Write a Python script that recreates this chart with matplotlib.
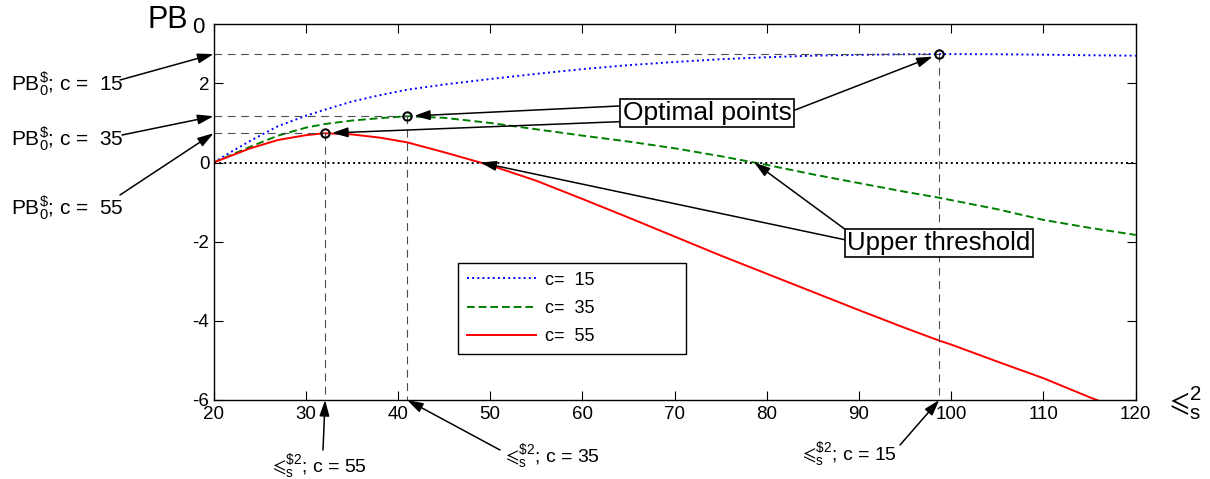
import matplotlib
matplotlib.use('Agg')
import matplotlib.pyplot as plt
import numpy as np

plt.rcParams['font.family'] = ['Liberation Sans', 'DejaVu Sans']
plt.rcParams['mathtext.default'] = 'regular'
plt.rcParams['axes.unicode_minus'] = False

# values
x_vals = [20, 22, 24, 27, 30, 32, 35, 38, 41, 45, 50, 55, 60, 65, 70, 75, 80,
          85, 90, 95, 98.7, 100, 105, 110, 115, 120]
pb_c15 = [0, 0.28, 0.55, 0.92, 1.18, 1.33, 1.54, 1.70, 1.84, 1.97, 2.11, 2.24,
          2.36, 2.46, 2.54, 2.61, 2.66, 2.70, 2.72, 2.735, 2.74, 2.74, 2.735,
          2.725, 2.71, 2.70]
pb_c35 = [0, 0.20, 0.40, 0.68, 0.88, 0.97, 1.06, 1.12, 1.17, 1.13, 1.00, 0.84,
          0.68, 0.53, 0.36, 0.16, -0.06, -0.30, -0.52, -0.74, -0.89, -0.95,
          -1.18, -1.45, -1.65, -1.83]
pb_c55 = [0, 0.18, 0.36, 0.57, 0.69, 0.74, 0.71, 0.63, 0.51, 0.26, -0.07, -0.46,
          -0.92, -1.39, -1.87, -2.35, -2.81, -3.27, -3.73, -4.18, -4.50, -4.60,
          -5.03, -5.45, -5.93, -6.38]
legend_labels = ['c=  15', 'c=  35', 'c=  55']
opt_x = [98.7, 41.0, 32.1]      # c = 15, 35, 55
opt_y = [2.74, 1.17, 0.74]
c_vals = [15, 35, 55]

W, H = 1210, 479


def fp(x, y):
    # picture pixels (top-left origin) -> figure fraction
    return (x / W, 1 - y / H)


fig = plt.figure(figsize=(W / 100, H / 100), dpi=100)
ax = fig.add_axes([213.5 / W, 79 / H, 922.2 / W, 376 / H])

ax.plot(x_vals, pb_c15, ':', color='#0000ff', lw=1.4, label=legend_labels[0])
ax.plot(x_vals, pb_c35, '--', color='#008000', lw=1.4, dashes=(4, 2),
        label=legend_labels[1])
ax.plot(x_vals, pb_c55, '-', color='#ff0000', lw=1.4, label=legend_labels[2])

ax.axhline(0, color='k', ls=':', lw=1.4)

for ox, oy in zip(opt_x, opt_y):
    ax.plot([20, ox], [oy, oy], color='0.3', lw=0.8, dashes=(7, 5))
    ax.plot([ox, ox], [oy, -6], color='0.3', lw=0.8, dashes=(7, 5))
ax.plot(opt_x, opt_y, 'o', mfc='none', mec='k', mew=1.5, ms=6)

ax.set_xlim(20, 120)
ax.set_ylim(-6, 3.5)
ax.set_xticks(np.arange(20, 121, 10))
ax.set_yticks([-6, -4, -2, 0, 2])
ax.tick_params(direction='in', top=True, right=True, length=6.5, width=0.8,
               labelsize=13.5)
ax.tick_params(axis='x', pad=4)
ax.tick_params(axis='y', pad=3)
for s in ax.spines.values():
    s.set_linewidth(1.0)

leg = ax.legend(loc='lower left', bbox_to_anchor=(0.265, 0.122, 0.247, 0.245),
                mode='expand', borderaxespad=0, fontsize=13, handlelength=3.8,
                handletextpad=0.55, borderpad=0.5, labelspacing=0.62,
                fancybox=False, framealpha=1, edgecolor='k')
leg.get_frame().set_linewidth(1.0)

arr = dict(arrowstyle='-|>,head_length=0.8,head_width=0.25', color='k',
           lw=1.1, mutation_scale=12, shrinkA=0, shrinkB=0)
arr_pt = dict(arr, shrinkB=5)

# left labels pointing at the optimal PB values
left_base = [91, 146, 215]
left_start = [(120, 80), (122, 135), (120, 195)]
for c, oy, b, st in zip(c_vals, opt_y, left_base, left_start):
    fig.text(*fp(11, b), r'$PB_0^{\$}$; c =  %d' % c, fontsize=15,
             ha='left', va='baseline')
    ax.annotate('', xy=(20, oy), xycoords='data', xytext=fp(*st),
                textcoords='figure fraction', arrowprops=arr, annotation_clip=False)

# bottom labels pointing at the optimal sigma values
bot_left = [802, 505, 272]
bot_base = [460, 462, 472]
bot_start = [(900, 445), (500, 450), (323, 450)]
for c, ox, lx, b, st in zip(c_vals, opt_x, bot_left, bot_base, bot_start):
    fig.text(*fp(lx, b), '$\u2a7d_s^{\\$2}$; c = %d' % c, fontsize=14,
             ha='left', va='baseline')
    ax.annotate('', xy=(ox, -6), xycoords='data', xytext=fp(*st),
                textcoords='figure fraction', arrowprops=arr, annotation_clip=False)

# Optimal points box
box = dict(boxstyle='square,pad=0.08', fc='white', ec='k', lw=1.2)
fig.text(*fp(707, 113), 'Optimal points', fontsize=19, ha='center',
         va='center', bbox=box)
opt_start = [(795, 110), (619, 106), (619, 121.7)]
for ox, oy, st in zip(opt_x, opt_y, opt_start):
    ax.annotate('', xy=(ox, oy), xycoords='data', xytext=fp(*st),
                textcoords='figure fraction', arrowprops=arr_pt)

# Upper threshold box
fig.text(*fp(939, 243), 'Upper threshold', fontsize=18.5, ha='center',
         va='center', bbox=box)
x_arr = np.array(x_vals)
zero_c35 = np.interp(0, np.array(pb_c35)[::-1], x_arr[::-1])
zero_c55 = np.interp(0, np.array(pb_c55)[::-1], x_arr[::-1])
ax.annotate('', xy=(zero_c55, 0), xycoords='data', xytext=fp(846, 240),
            textcoords='figure fraction', arrowprops=arr)
ax.annotate('', xy=(zero_c35, 0), xycoords='data', xytext=fp(846, 230),
            textcoords='figure fraction', arrowprops=arr)

# axis labels
fig.text(*fp(147, 28), 'PB', fontsize=22, ha='left', va='baseline')
fig.text(*fp(192, 33), '0', fontsize=16, ha='left', va='baseline')
fig.text(*fp(1169, 412), '$\u2a7d_s^2$', fontsize=21, ha='left',
         va='baseline')

fig.savefig('out.png', dpi=100)
